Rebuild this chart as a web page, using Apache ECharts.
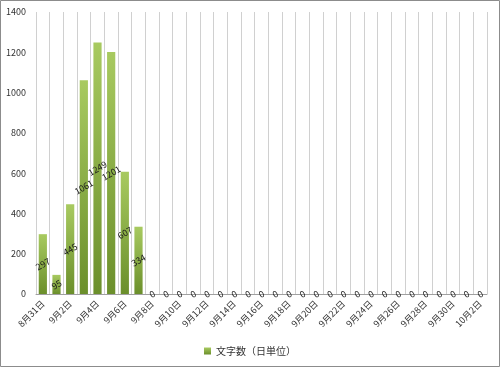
<!DOCTYPE html>
<html><head><meta charset="utf-8">
<script src="https://cdn.jsdelivr.net/npm/echarts@6/dist/echarts.min.js"></script>
<style>html,body{margin:0;padding:0;background:#fff}#c{width:500px;height:367px}</style>
</head><body><div id="c"></div>
<script>
const categories = ["8月31日","9月1日","9月2日","9月3日","9月4日","9月5日","9月6日","9月7日","9月8日","9月9日","9月10日","9月11日","9月12日","9月13日","9月14日","9月15日","9月16日","9月17日","9月18日","9月19日","9月20日","9月21日","9月22日","9月23日","9月24日","9月25日","9月26日","9月27日","9月28日","9月29日","9月30日","10月1日","10月2日"];
const values = [297,95,445,1061,1249,1201,607,334,0,0,0,0,0,0,0,0,0,0,0,0,0,0,0,0,0,0,0,0,0,0,0,0,0];
const seriesName = "文字数（日単位）";
const yTicks = {min:0, max:1400, interval:200};
const font = '"Noto Sans CJK JP", sans-serif';
const chart = echarts.init(document.getElementById('c'), null, {renderer:'canvas'});
chart.setOption({
  animation:false,
  backgroundColor:'#fff',
  textStyle:{fontFamily:font},
  graphic:[{type:'rect',shape:{x:0.5,y:0.5,width:499,height:366},style:{fill:'none',stroke:'#8c8c8c',lineWidth:1},silent:true}],
  grid:{left:36,right:13,top:12,bottom:73,containLabel:false},
  legend:{bottom:6,left:'center',itemWidth:7,itemHeight:7,icon:'rect',itemGap:10,
    textStyle:{fontSize:10,color:'#333',fontFamily:font},data:[seriesName]},
  xAxis:{type:'category',data:categories,boundaryGap:true,
    axisLine:{lineStyle:{color:'#a0a0a0'}},axisTick:{show:false},
    axisLabel:{interval:1,rotate:45,fontSize:9,color:'#333',margin:8,fontFamily:font},
    splitLine:{show:true,interval:0,lineStyle:{color:'#d0d0d0',width:1}}},
  yAxis:{type:'value',min:yTicks.min,max:yTicks.max,interval:yTicks.interval,
    axisLine:{show:false},axisTick:{show:false},splitLine:{show:false},
    axisLabel:{fontSize:9,color:'#333',margin:10,fontFamily:font,formatter:v=>String(v)}},
  series:[{name:seriesName,type:'bar',data:values,barCategoryGap:'40%',
    itemStyle:{color:new echarts.graphic.LinearGradient(0,0,0,1,[{offset:0,color:'#a8ca60'},{offset:1,color:'#6b8f2b'}])},
    label:{show:true,position:'inside',rotate:30,fontSize:9,color:'#1a1a1a',fontFamily:font}}]
});
</script></body></html>
